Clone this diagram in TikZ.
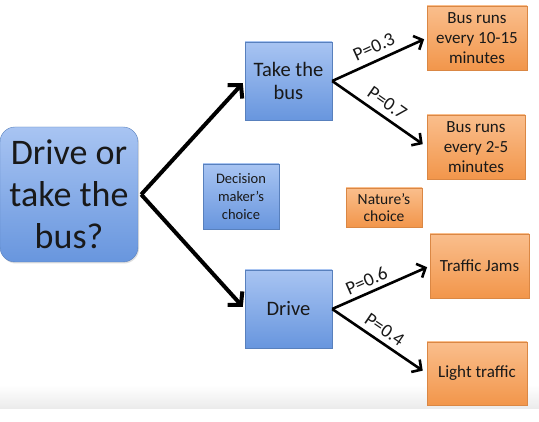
\documentclass[tikz,border=0pt]{standalone}
\usepackage{fontspec}
\setmainfont{Carlito}
\usetikzlibrary{arrows.meta,shadows}
\definecolor{bluetop}{RGB}{168,196,242}
\definecolor{bluebot}{RGB}{104,150,222}
\definecolor{orgtop}{RGB}{250,190,140}
\definecolor{orgbot}{RGB}{242,150,75}
\definecolor{txt}{RGB}{25,25,25}
\tikzset{
  bluebox/.style={draw=bluebot!85!black, line width=0.4pt, top color=bluetop, bottom color=bluebot,
    align=center, inner sep=0pt, text=txt, drop shadow={shadow xshift=1pt, shadow yshift=-1.5pt, opacity=0.25}},
  orgbox/.style={draw=orgbot!90!black, line width=0.3pt, top color=orgtop, bottom color=orgbot,
    align=center, inner sep=0pt, text=txt, drop shadow={shadow xshift=1pt, shadow yshift=-1.5pt, opacity=0.25}},
  bigarrow/.style={line width=4pt, -{Straight Barb[length=9pt,width=20pt,line width=4pt]}},
  smallarrow/.style={line width=2.6pt, -{Straight Barb[length=7pt,width=15pt,line width=2.6pt]}},
  plabel/.style={font=\fontsize{19}{19}\selectfont, text=txt, inner sep=1pt}
}
\begin{document}
\begin{tikzpicture}[x=1pt,y=1pt]
\useasboundingbox (0,0) rectangle (539,-422);
\fill[white] (0,0) rectangle (539,-422);
\shade[top color=white, bottom color=black!8] (0,-385) rectangle (539,-409);

\node[bluebox, rounded corners=15pt, minimum width=138pt, minimum height=135pt,
  font=\fontsize{36}{42}\selectfont] (main) at (69,-194.5) {Drive or\\take the\\bus?};
\node[bluebox, minimum width=87pt, minimum height=78pt, font=\fontsize{20.5}{23}\selectfont] (bus) at (288.5,-81) {Take the\\bus};
\node[bluebox, minimum width=87pt, minimum height=78pt, font=\fontsize{20.5}{23}\selectfont] (drive) at (288.5,-309) {Drive};
\node[bluebox, minimum width=76pt, minimum height=65pt, font=\fontsize{14.5}{18}\selectfont] (dm) at (241,-196.5) {Decision\\maker's\\choice};
\node[orgbox, minimum width=76pt, minimum height=39pt, font=\fontsize{15.5}{17}\selectfont] (nat) at (384,-207.5) {Nature's\\choice};
\node[orgbox, minimum width=100pt, minimum height=64pt, font=\fontsize{17}{20}\selectfont] (o1) at (477,-38) {Bus runs\\every 10-15\\minutes};
\node[orgbox, minimum width=98pt, minimum height=64pt, font=\fontsize{17}{20}\selectfont] (o2) at (476,-147) {Bus runs\\every 2-5\\minutes};
\node[orgbox, minimum width=99pt, minimum height=64pt, font=\fontsize{17}{20}\selectfont] (o3) at (479.5,-266) {Traffic Jams};
\node[orgbox, minimum width=100pt, minimum height=63pt, font=\fontsize{17}{20}\selectfont] (o4) at (477,-373.5) {Light traffic};

\coordinate (ms) at ([xshift=3pt]main.east);
\draw[bigarrow, shorten >=3pt] (ms) -- (bus.west);
\draw[bigarrow, shorten >=3pt] (ms) -- (drive.west);

\draw[smallarrow, shorten >=3pt] (bus.east) -- node[plabel, sloped, above=5pt, pos=0.5] {P=0.3} (o1.west);
\draw[smallarrow, shorten >=5pt] (bus.east) -- node[plabel, sloped, above=5pt, pos=0.5] {P=0.7} (o2.west);
\draw[smallarrow, shorten >=3pt] (drive.east) -- node[plabel, sloped, above=3pt, pos=0.4] {P=0.6} (o3.west);
\draw[smallarrow, shorten >=5pt] (drive.east) -- node[plabel, sloped, above=4pt, pos=0.48] {P=0.4} (o4.west);
\end{tikzpicture}
\end{document}
